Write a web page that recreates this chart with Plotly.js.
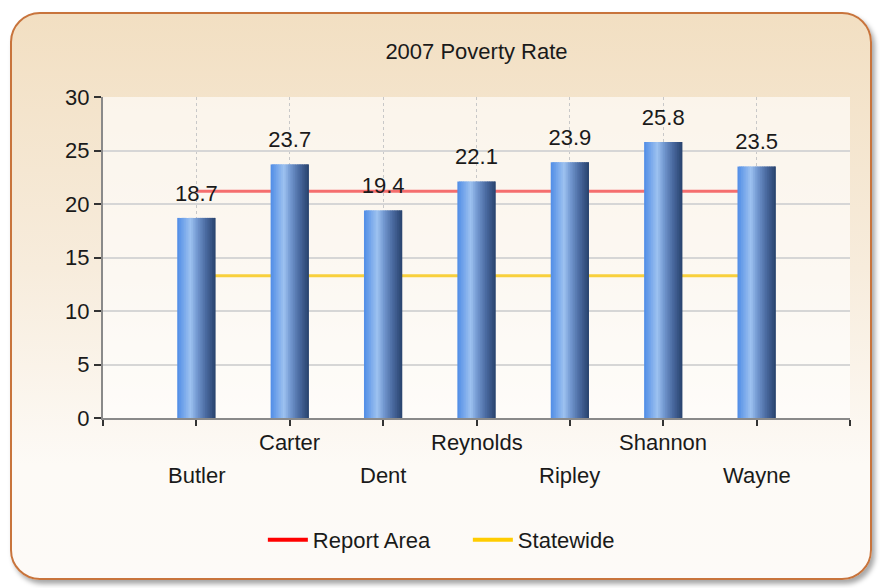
<!DOCTYPE html>
<html>
<head>
<meta charset="utf-8">
<script src="https://cdn.plot.ly/plotly-3.0.1.min.js"></script>
<style>
  html, body { margin:0; padding:0; width:880px; height:588px; overflow:hidden; background:#ffffff; }
  #frame { position:absolute; left:10px; top:12px; width:862px; height:568px; box-sizing:border-box;
           border:2px solid #c8743c; border-radius:30px;
           background:linear-gradient(to bottom, #f2dfc2 0%, #f7ecdc 45%, #fdfaf6 80%, #fdfaf7 100%);
           box-shadow:3px 4px 5px rgba(0,0,0,0.35); }
  #chart { position:absolute; left:0; top:0; width:880px; height:588px; }
</style>
</head>
<body>
<div id="frame"></div>
<div id="chart"></div>
<script>
// ---- data ----
var categories = ["Butler", "Carter", "Dent", "Reynolds", "Ripley", "Shannon", "Wayne"];
var povertyRate = [18.7, 23.7, 19.4, 22.1, 23.9, 25.8, 23.5];
var reportArea = [21.2, 21.2, 21.2, 21.2, 21.2, 21.2, 21.2];
var statewide = [13.3, 13.3, 13.3, 13.3, 13.3, 13.3, 13.3];
var yTicks = [0, 5, 10, 15, 20, 25, 30];
var chartTitle = "2007 Poverty Rate";

// ---- build ----
var xs = categories.map(function (c, i) { return i + 1; });
var FONT = "Liberation Sans, Arial, sans-serif";
var FS = 22;
var traces = [];

// reference lines (main axes, drawn below bars on overlay axes)
traces.push({ type: "scatter", mode: "lines", x: xs, y: reportArea, xaxis: "x", yaxis: "y",
  line: { color: "rgba(245,110,110,1)", width: 3 }, showlegend: false, hoverinfo: "skip" });
traces.push({ type: "scatter", mode: "lines", x: xs, y: statewide, xaxis: "x", yaxis: "y",
  line: { color: "rgba(248,208,60,1)", width: 3 }, showlegend: false, hoverinfo: "skip" });
// legend entries
traces.push({ type: "scatter", mode: "lines", x: [null], y: [null], name: "Report Area",
  line: { color: "#ff0000", width: 4 }, showlegend: true });
traces.push({ type: "scatter", mode: "lines", x: [null], y: [null], name: "Statewide",
  line: { color: "#ffcc00", width: 4 }, showlegend: true });

// gradient bars built from slices
var stops = [[0, [80, 140, 230]], [0.35, [158, 194, 240]], [0.5, [118, 156, 212]], [0.75, [74, 106, 160]], [1, [40, 66, 108]]];
function colAt(t) {
  for (var k = 0; k < stops.length - 1; k++) {
    var a = stops[k], b = stops[k + 1];
    if (t >= a[0] && t <= b[0]) {
      var f = (t - a[0]) / (b[0] - a[0]);
      var c = a[1].map(function (v, j) { return Math.round(v + (b[1][j] - v) * f); });
      return "rgb(" + c.join(",") + ")";
    }
  }
  return "rgb(40,66,108)";
}
var W = 0.41, N = 22, step = W / N;
for (var i = 0; i < N; i++) {
  var off = -W / 2 + i * step;
  var wd = Math.min(step * 1.8, W / 2 - off);
  traces.push({ type: "bar", x: xs, y: povertyRate, xaxis: "x2", yaxis: "y2",
    width: wd, offset: off, marker: { color: colAt((i + 0.5) / N), line: { width: 0 } },
    showlegend: false, hoverinfo: "skip" });
}
// value labels
traces.push({ type: "scatter", mode: "markers+text", x: xs, y: povertyRate, xaxis: "x2", yaxis: "y2",
  marker: { size: 17, opacity: 0 },
  text: povertyRate.map(function (v) { return v.toFixed(1); }), textposition: "top center",
  textfont: { family: FONT, size: FS, color: "#1a1a1a" }, showlegend: false, hoverinfo: "skip" });

// category labels, staggered in two rows
var annotations = categories.map(function (c, i) {
  return { text: c, x: xs[i], y: 0, xref: "x", yref: "y", showarrow: false,
    yanchor: "top", yshift: (i % 2 === 0) ? -43 : -10,
    font: { family: FONT, size: FS, color: "#1a1a1a" } };
});

var layout = {
  width: 880, height: 588,
  margin: { l: 103, r: 30, t: 97, b: 170 },
  paper_bgcolor: "rgba(0,0,0,0)",
  plot_bgcolor: "rgba(255,255,255,0.62)",
  font: { family: FONT, size: FS, color: "#1a1a1a" },
  title: { text: chartTitle, x: 0.5, xref: "paper", xanchor: "center", y: 1 - 51 / 588, yanchor: "middle",
    font: { family: FONT, size: FS, color: "#1a1a1a" } },
  barmode: "overlay",
  showlegend: true,
  legend: { orientation: "h", x: 0.214, xanchor: "left", y: -0.38, yanchor: "middle",
    font: { family: FONT, size: FS, color: "#1a1a1a" }, bgcolor: "rgba(0,0,0,0)",
    itemwidth: 40, entrywidth: 150, entrywidthmode: "pixels" },
  xaxis: { range: [0, 8], tickmode: "array", tickvals: [0, 1, 2, 3, 4, 5, 6, 7, 8],
    ticktext: ["", "", "", "", "", "", "", "", ""],
    showgrid: true, gridcolor: "#c8c8c8", griddash: "dot", gridwidth: 1,
    showline: true, linecolor: "#8a8a8a", linewidth: 2,
    ticks: "outside", ticklen: 6, tickwidth: 2, tickcolor: "#333333", zeroline: false, fixedrange: true },
  yaxis: { range: [0, 30], tickmode: "array", tickvals: yTicks, ticktext: yTicks.map(String),
    showgrid: true, gridcolor: "#d6d6d6", gridwidth: 2,
    showline: true, linecolor: "#8a8a8a", linewidth: 2,
    ticks: "outside", ticklen: 7, tickwidth: 2, tickcolor: "#333333", zeroline: false,
    tickfont: { family: FONT, size: FS, color: "#1a1a1a" }, fixedrange: true },
  xaxis2: { range: [0, 8], overlaying: "x", visible: false, fixedrange: true },
  yaxis2: { range: [0, 30], overlaying: "y", visible: false, fixedrange: true },
  annotations: annotations
};

Plotly.newPlot("chart", traces, layout, { displayModeBar: false, staticPlot: true });
</script>
</body>
</html>
